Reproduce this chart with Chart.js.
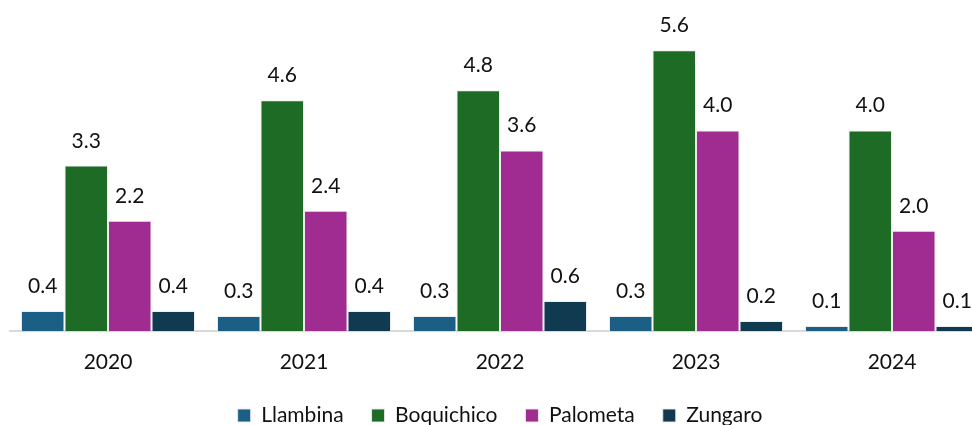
<!DOCTYPE html>
<html>
<head>
<meta charset="utf-8">
<script src="https://cdn.jsdelivr.net/npm/chart.js@4"></script>
<style>
  html, body { margin: 0; padding: 0; background: #fff; overflow: hidden; }
  #wrap { position: relative; width: 1000px; height: 436px; }
</style>
</head>
<body>
<div id="wrap"><canvas id="fishChart"></canvas></div>
<script>
const years = ['2020', '2021', '2022', '2023', '2024'];
const llambina = [0.4, 0.3, 0.3, 0.3, 0.1];
const boquichico = [3.3, 4.6, 4.8, 5.6, 4.0];
const palometa = [2.2, 2.4, 3.6, 4.0, 2.0];
const zungaro = [0.4, 0.4, 0.6, 0.2, 0.1];

const FONT = 'Lato, "Open Sans", sans-serif';

// numbers above each bar
const valueLabels = {
    id: 'valueLabels',
    afterDatasetsDraw(chart) {
        const ctx = chart.ctx;
        ctx.save();
        ctx.font = '21px ' + FONT;
        ctx.fillStyle = '#111';
        ctx.textAlign = 'center';
        ctx.textBaseline = 'alphabetic';
        chart.data.datasets.forEach((ds, i) => {
            chart.getDatasetMeta(i).data.forEach((bar, j) => {
                ctx.fillText(ds.data[j].toFixed(1), bar.x, bar.y - 18);
            });
        });
        ctx.restore();
    }
};

const mk = (label, data, color) => ({
    label, data, backgroundColor: color,
    borderColor: 'rgba(235,235,235,0.9)', borderWidth: 1,
    categoryPercentage: 0.888, barPercentage: 1.0
});

new Chart(document.getElementById('fishChart'), {
    type: 'bar',
    data: {
        labels: years,
        datasets: [
            mk('Llambina', llambina, '#1b5f86'),
            mk('Boquichico', boquichico, '#1e6b25'),
            mk('Palometa', palometa, '#a02b91'),
            mk('Zungaro', zungaro, '#103a50')
        ]
    },
    options: {
        responsive: true,
        maintainAspectRatio: false,
        animation: false,
        layout: { padding: { left: 10, right: 10, top: 0, bottom: 0 } },
        scales: {
            x: {
                grid: { display: false },
                border: { color: '#d9d9d9', width: 2 },
                ticks: { color: '#111', font: { family: FONT, size: 21 }, padding: 11 },
                afterFit(scale) { scale.height = 46; }
            },
            y: { display: false, min: 0, max: 6.6 }
        },
        plugins: {
            tooltip: { enabled: false },
            legend: {
                position: 'bottom',
                labels: {
                    color: '#111',
                    font: { family: FONT, size: 21, lineHeight: 1 },
                    boxWidth: 13, boxHeight: 13,
                    padding: 28
                }
            }
        }
    },
    plugins: [valueLabels]
});
</script>
</body>
</html>
